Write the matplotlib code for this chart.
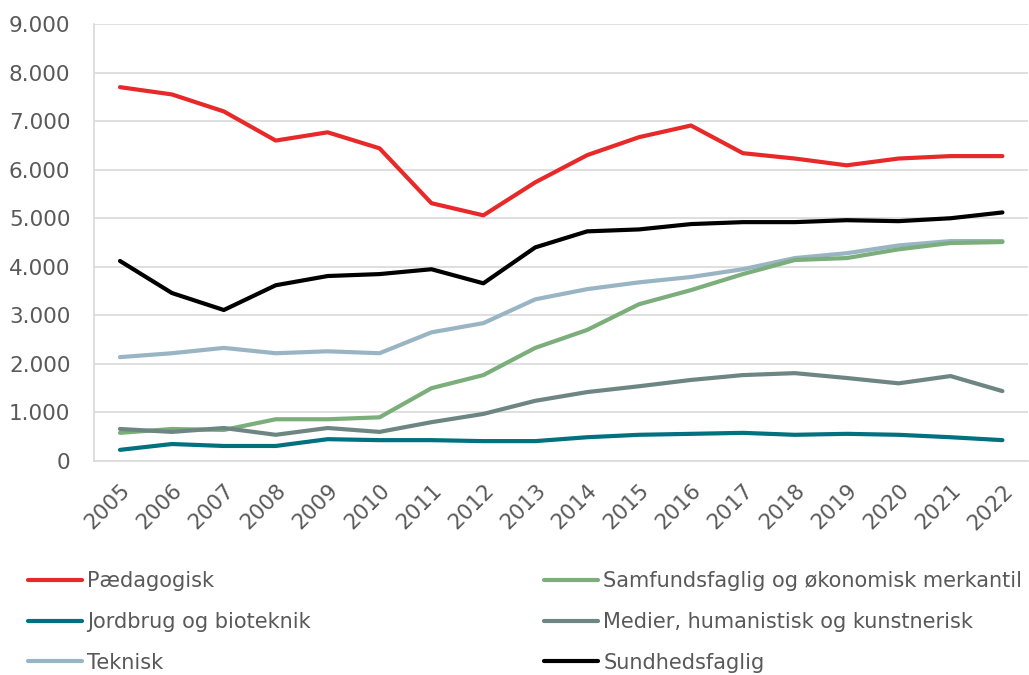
import matplotlib
matplotlib.use("Agg")
import matplotlib.pyplot as plt
import matplotlib.transforms as mtransforms
from matplotlib.ticker import FuncFormatter

years = [str(y) for y in range(2005, 2023)]

paedagogisk = [7700, 7550, 7200, 6600, 6770, 6440, 5310, 5060, 5740, 6300,
               6670, 6910, 6340, 6230, 6090, 6230, 6280, 6280]
jordbrug = [230, 350, 310, 310, 450, 430, 430, 410, 410, 490,
            540, 560, 580, 540, 560, 540, 490, 430]
teknisk = [2140, 2220, 2330, 2220, 2260, 2220, 2650, 2840, 3330, 3540,
           3680, 3790, 3950, 4180, 4280, 4440, 4530, 4530]
samfund = [580, 660, 640, 860, 860, 900, 1500, 1770, 2330, 2700,
           3230, 3520, 3850, 4140, 4180, 4360, 4490, 4510]
medier = [660, 600, 680, 540, 680, 600, 800, 970, 1240, 1420,
          1540, 1670, 1770, 1810, 1710, 1600, 1750, 1440]
sundhed = [4120, 3460, 3110, 3620, 3810, 3850, 3950, 3660, 4400, 4730,
           4770, 4880, 4920, 4920, 4960, 4940, 5000, 5120]

series = [
    ("Pædagogisk", paedagogisk, "#E8292A"),
    ("Jordbrug og bioteknik", jordbrug, "#00717F"),
    ("Teknisk", teknisk, "#99B5C3"),
    ("Samfundsfaglig og økonomisk merkantil", samfund, "#7BAE7A"),
    ("Medier, humanistisk og kunstnerisk", medier, "#6E8683"),
    ("Sundhedsfaglig", sundhed, "#000000"),
]

text_col = "#595959"
plt.rcParams["font.family"] = ["DejaVu Sans"]

fig = plt.figure(figsize=(10.29, 6.75), dpi=100)
ax = fig.add_axes([0.0914, 0.317, 0.908, 0.6474])

x = list(range(len(years)))
for name, vals, col in series:
    ax.plot(x, vals, color=col, lw=3, label=name, solid_capstyle="round")

ax.set_xlim(-0.5, len(years) - 0.5)
ax.set_ylim(0, 9000)
ax.set_yticks(range(0, 9001, 1000))
ax.yaxis.set_major_formatter(FuncFormatter(lambda v, p: f"{int(v):,}".replace(",", ".")))
ax.set_xticks(x)
ax.set_xticklabels(years, rotation=45, ha="right", rotation_mode="anchor")
shift = mtransforms.ScaledTranslation(4 / 100, 0, fig.dpi_scale_trans)
for lab in ax.get_xticklabels():
    lab.set_transform(lab.get_transform() + shift)

ax.grid(axis="y", color="#D9D9D9", lw=1.2)
ax.set_axisbelow(True)
for s in ["top", "right"]:
    ax.spines[s].set_visible(False)
for s in ["left", "bottom"]:
    ax.spines[s].set_color("#D9D9D9")
    ax.spines[s].set_linewidth(1.2)
ax.tick_params(length=0, colors=text_col, labelsize=15.5)
ax.tick_params(axis="x", pad=14)
ax.tick_params(axis="y", pad=17)

fig.legend(loc="upper left", bbox_to_anchor=(0.027, 0.154), ncol=2, frameon=False,
           fontsize=15, labelcolor=text_col, handlelength=2.6, handletextpad=0.25,
           columnspacing=11.2, labelspacing=1.0, borderaxespad=0, borderpad=0)

fig.savefig("out.png", dpi=100)
